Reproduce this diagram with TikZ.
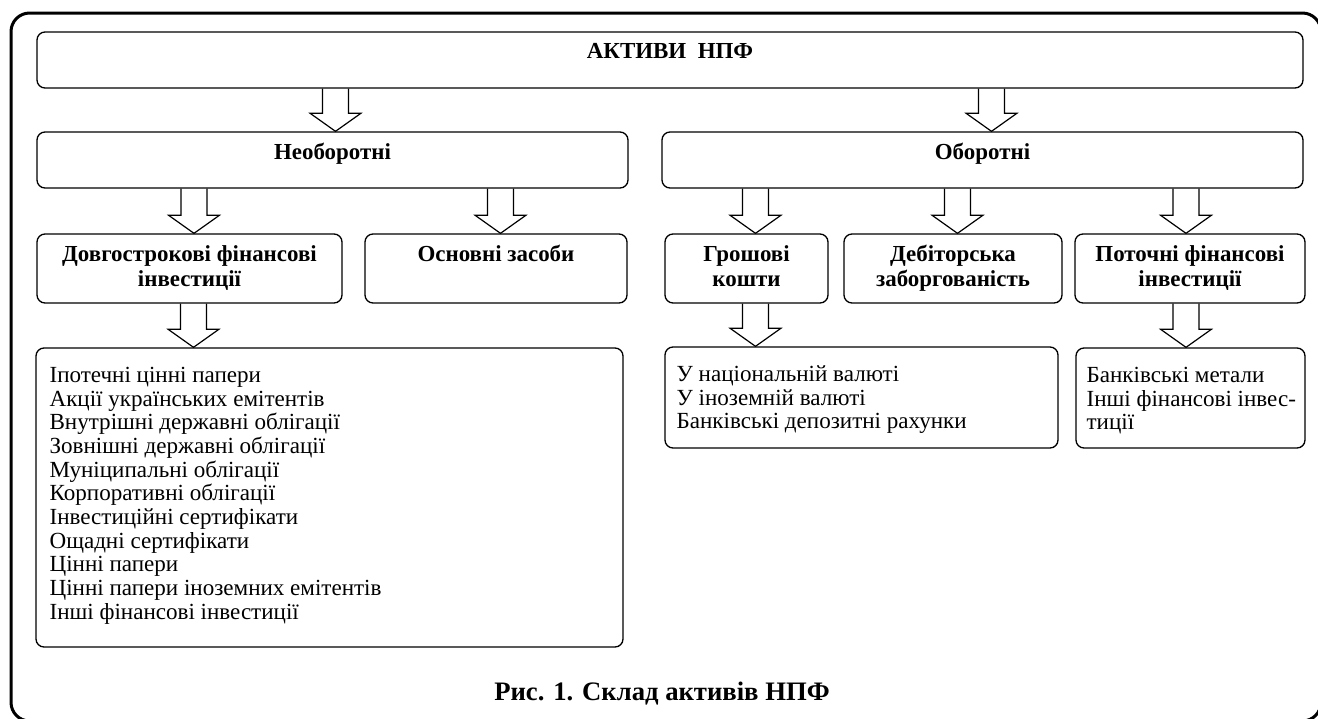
\documentclass[tikz,border=0pt]{standalone}
\usepackage{fontspec}
\setmainfont{Liberation Serif}
\usetikzlibrary{calc,fit}

\tikzset{
  box/.style={draw, line width=1pt, rounded corners=6pt, inner sep=0pt},
  head/.style={font=\fontsize{17.2}{18.8}\selectfont\bfseries, align=center, inner sep=0pt, anchor=base},
  item/.style={font=\fontsize{17.3}{17.8}\selectfont, inner sep=0pt, anchor=base west},
  hollow/.style={draw, line width=0.9pt, line join=miter, to path={
    let \p1=(\tikztostart), \p2=(\tikztotarget) in
      (\x2-9.75pt,\y1) -- (\x2-9.75pt,\y2+13.5pt) -- (\x2-19pt,\y2+13.5pt) -- (\x2,\y2)
      -- (\x2+19pt,\y2+13.5pt) -- (\x2+9.75pt,\y2+13.5pt) -- (\x2+9.75pt,\y1)}}
}

\begin{document}
\begin{tikzpicture}[x=0.75pt, y=-0.75pt]
	\useasboundingbox (0,0) rectangle (1318,718);
	\draw[line width=2.25pt, rounded corners=14pt] (11,13) rectangle (1321,721);
	
	\foreach \n/\xa/\ya/\xb/\yb in {aktyvy/37/32/1303/88, neob/37/132/628/188, obor/662/132/1303/188,
		dovh/37/234/342/303, osnov/365/234/627/303, hrosh/665/234/828/303, debit/844/234/1062/303,
		potoch/1075/234/1305/303, list-dovh/36/348/623/647, list-hrosh/665/347/1058/448, list-potoch/1076/348/1305/448}
		\node[box, fit={(\xa,\ya) (\xb,\yb)}] (\n) {};
	
	\node[head] (aktyvy-t) at ($(aktyvy.north)+(0,27)$) {АКТИВИ\ \ НПФ};
	\node[head] (neob-t) at ($(neob.north)+(0,28)$) {Необоротні};
	\node[head] (obor-t) at ($(obor.north)+(0,28)$) {Оборотні};
	\node[head] (osnov-t) at ($(osnov.north)+(0,28)$) {Основні засоби};
	% two lines: base is the second line
	\node[head] (dovh-t) at ($(dovh.north)+(0,53)$) {Довгострокові фінансові\\інвестиції};
	\node[head] (hrosh-t) at ($(hrosh.north)+(0,53)$) {Грошові\\кошти};
	\node[head] (debit-t) at ($(debit.north)+(0,53)$) {Дебіторська\\заборгованість};
	\node[head] (potoch-t) at ($(potoch.north)+(0,53)$) {Поточні фінансові\\інвестиції};
	
	\foreach \t [count=\i from 0] in {Іпотечні цінні папери, Акції українських емітентів, Внутрішні державні облігації,
		Зовнішні державні облігації, Муніципальні облігації, Корпоративні облігації, Інвестиційні сертифікати,
		Ощадні сертифікати, Цінні папери, Цінні папери іноземних емітентів, Інші фінансові інвестиції}
		\node[item] (dovh-\i) at ($(list-dovh.north west)+(14,{35+23.7*\i})$) {\t};
	\foreach \t [count=\i from 0] in {У національній валюті, У іноземній валюті, Банківські депозитні рахунки}
		\node[item] (hrosh-\i) at ($(list-hrosh.north west)+(12,{35+23.7*\i})$) {\t};
	\foreach \t [count=\i from 0] in {Банківські метали, Інші фінансові інвес-, тиції}
		\node[item] (potoch-\i) at ($(list-potoch.north west)+(11,{35+23.7*\i})$) {\t};
	
	% from / to / x taken from / shift
	\foreach \a/\b/\c/\s in {aktyvy/neob/neob.north/3, aktyvy/obor/obor.north/9,
		neob/dovh/dovh.north/4.5, neob/osnov/osnov.north/4.5,
		obor/hrosh/hrosh.north/9, obor/debit/debit.north/4.5, obor/potoch/potoch.north/-4,
		dovh/list-dovh/dovh.south/4, hrosh/list-hrosh/hrosh.south/9, potoch/list-potoch/potoch.south/-4}
		\draw[hollow] (\a.south) to ($(\b.north -| \c)+(\s,0)$);
	
	\node[font=\fontsize{20}{22}\selectfont\bfseries, anchor=base] (caption) at (662,700) {Рис. 1. Склад активів НПФ};
\end{tikzpicture}
\end{document}
